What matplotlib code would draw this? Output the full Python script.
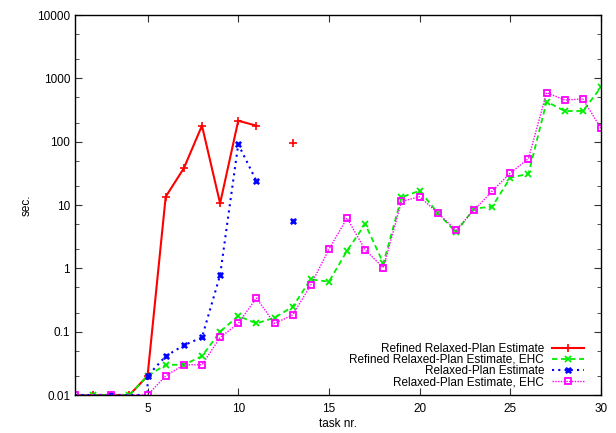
import numpy as np
import matplotlib
matplotlib.use("Agg")
import matplotlib.pyplot as plt
from matplotlib.ticker import FixedLocator, FuncFormatter, LogLocator, NullFormatter

plt.rcParams['font.family'] = ['Liberation Sans', 'DejaVu Sans']

nan = np.nan
tasks = np.arange(1, 31)

# Refined Relaxed-Plan Estimate (solved tasks only)
refined = [0.01, 0.01, 0.01, 0.01, 0.02, 13.5, 38, 179, 10.6, 214, 179, nan, 94,
           nan, nan, nan, nan, nan, nan, nan, nan, nan, nan, nan, nan, nan, nan,
           nan, nan, nan]
# Refined Relaxed-Plan Estimate, EHC
refined_ehc = [0.01, 0.01, 0.01, 0.01, 0.02, 0.03, 0.03, 0.041, 0.1, 0.177, 0.135,
               0.166, 0.248, 0.67, 0.615, 1.9, 5.0, 1.2, 13.2, 16.8, 7.5, 3.7, 8.8,
               9.4, 27, 31, 428, 305, 305, 721]
# Relaxed-Plan Estimate
rp_x = [1, 2, 3, 4, 5, 5, 6, 7, 8, 9, 10, 11, 12, 13]
rp = [0.01, 0.01, 0.01, 0.01, 0.01, 0.02, 0.041, 0.061, 0.081, 0.785, 91, 24, nan, 5.6]
# Relaxed-Plan Estimate, EHC
rp_ehc = [0.01, 0.01, 0.01, 0.01, 0.01, 0.02, 0.03, 0.03, 0.081, 0.135, 0.34, 0.135,
          0.183, 0.546, 2.0, 6.2, 1.95, 1.02, 11.4, 13.5, 7.5, 4.0, 8.3, 16.6, 32, 54,
          594, 455, 472, 162]

fig = plt.figure(figsize=(6.16, 4.33), dpi=100)
ax = fig.add_axes([75/616, 1 - 395/433, 526/616, 380/433])

# at the bottom row only some markers show through in the original
ax.plot(tasks, refined, color='#ff0000', lw=1.5, marker='+', ms=6, mew=1.2,
        label='Refined Relaxed-Plan Estimate')
ax.plot(tasks, refined_ehc, color='#00ee00', lw=1.3, ls=(0, (3, 2)), marker='x', ms=4.5,
        mew=1.3, markevery=[1] + list(range(3, 30)),
        label='Refined Relaxed-Plan Estimate, EHC')
ax.plot(rp_x, rp, color='#0000ff', lw=1.5, ls=(0, (1, 2)), marker='X', ms=5, mew=0.4,
        markevery=[2] + list(range(5, 14)), label='Relaxed-Plan Estimate')
ax.plot(tasks, rp_ehc, color='#ff00ff', lw=1.0, ls=(0, (1, 1)), marker='s', ms=4.5,
        mfc='none', mew=1.3, markevery=[0, 2] + list(range(4, 30)),
        label='Relaxed-Plan Estimate, EHC')

ax.set_yscale('log')
ax.set_ylim(0.01, 10000)
ax.set_xlim(1, 30)
ax.xaxis.set_major_locator(FixedLocator([5, 10, 15, 20, 25, 30]))
ax.yaxis.set_major_locator(FixedLocator([0.01, 0.1, 1, 10, 100, 1000, 10000]))
ax.yaxis.set_major_formatter(FuncFormatter(lambda v, p: '%g' % v))
ax.yaxis.set_minor_locator(LogLocator(base=10, subs=(2.0, 5.0)))
ax.yaxis.set_minor_formatter(NullFormatter())
ax.tick_params(which='both', direction='in', top=True, right=True, labelsize=8.5,
               color='#333333')
ax.tick_params(which='major', length=5)
ax.tick_params(which='minor', length=3)
ax.tick_params(axis='x', pad=6)
for s in ax.spines.values():
    s.set_linewidth(1.0)

ax.set_xlabel('task nr.', fontsize=8.5, labelpad=2)
ax.set_ylabel('sec.', fontsize=8.5, labelpad=3)

leg = ax.legend(loc='lower right', bbox_to_anchor=(1 - 5/526, -5/380), frameon=False,
                markerfirst=False, fontsize=8.5, handlelength=2.7, labelspacing=-0.07,
                borderaxespad=0.6, handletextpad=0.7)
for t in leg.get_texts():
    t.set_ha('right')

fig.savefig('out.png', dpi=100)
